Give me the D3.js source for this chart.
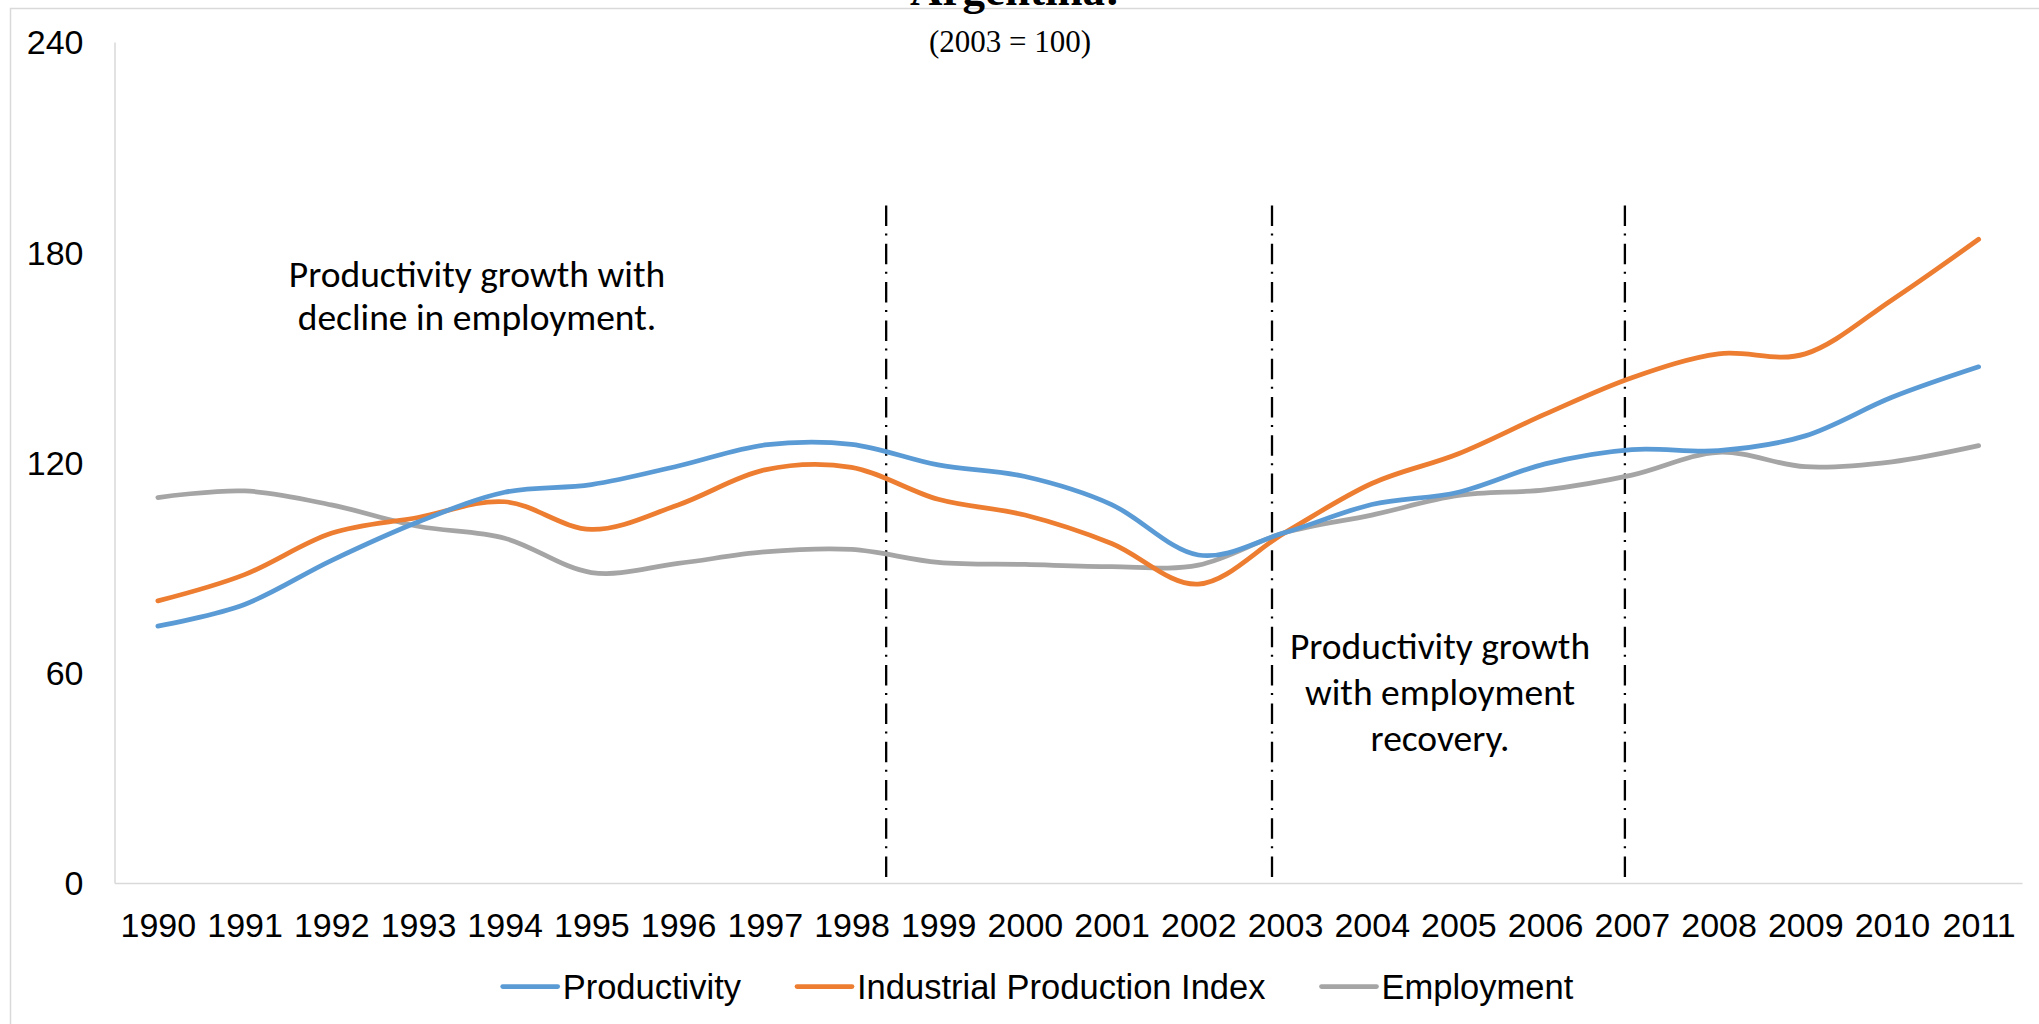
<!DOCTYPE html>
<html>
<head>
<meta charset="utf-8">
<script src="https://cdn.jsdelivr.net/npm/d3@7"></script>
<style>
  html, body { margin: 0; padding: 0; background: #ffffff; overflow: hidden; }
  svg { display: block; }
</style>
</head>
<body>
<svg id="chart" width="2039" height="1024"></svg>
<script>
// Argentina: productivity, industrial production and employment (index, 2003 = 100)
const years = ["1990","1991","1992","1993","1994","1995","1996","1997","1998","1999","2000",
               "2001","2002","2003","2004","2005","2006","2007","2008","2009","2010","2011"];
const productivity = [73.3, 79.5, 92.0, 103.0, 111.5, 113.7, 119.0, 125.0, 125.2, 119.3, 116.0,
                      108.0, 93.6, 100.0, 108.0, 111.5, 119.6, 123.7, 123.4, 127.6, 138.6, 147.3];
const industrial   = [80.5, 88.0, 99.8, 104.3, 108.8, 100.9, 107.9, 117.9, 118.6, 109.5, 105.0,
                      96.9, 85.3, 100.0, 114.0, 122.5, 133.8, 144.2, 151.0, 151.0, 166.4, 183.7];
const employment   = [110.0, 111.9, 107.9, 101.8, 98.4, 88.6, 91.2, 94.5, 95.2, 91.5, 90.9,
                      90.3, 90.7, 100.0, 105.0, 110.6, 112.2, 116.4, 122.9, 118.8, 120.2, 124.8];
const seriesNames  = ["Productivity", "Industrial Production Index", "Employment"];
const seriesColors = ["#5B9BD5", "#ED7D31", "#A5A5A5"];
const yTicks = [0, 60, 120, 180, 240];
const phaseBreaks = [1998.4, 2002.85, 2006.92];
const titleText = "Argentina:";
const subtitleText = "(2003 = 100)";
const noteLeft = ["Productivity growth with", "decline in employment."];
const noteRight = ["Productivity growth", "with employment", "recovery."];

const svg = d3.select("#chart");
const W = 2039, H = 1024;
const plot = { left: 114.5, right: 2022, top: 42, bottom: 883 };

// chart frame
svg.append("rect")
  .attr("x", 10.5).attr("y", 8.5)
  .attr("width", W + 20).attr("height", H + 20)
  .attr("fill", "#ffffff").attr("stroke", "#d9d9d9").attr("stroke-width", 1.5);

const x = d3.scalePoint().domain(years).range([plot.left, plot.right]).padding(0.5);
const xYear = d3.scaleLinear().domain([+years[0], +years[years.length - 1]])
  .range([x(years[0]), x(years[years.length - 1])]);
const y = d3.scaleLinear().domain([0, 240]).range([plot.bottom, plot.top]);

const axisFont = "'Liberation Sans', Arial, sans-serif";

// y axis
const gy = svg.append("g").attr("transform", `translate(${plot.left},0)`)
  .call(d3.axisLeft(y).tickValues(yTicks).tickSize(0).tickSizeOuter(0));
gy.select(".domain").attr("stroke", "#d9d9d9").attr("stroke-width", 1.5);
gy.selectAll(".tick text")
  .attr("x", -31).attr("dy", "0.35em")
  .attr("font-family", axisFont).attr("font-size", 34).attr("fill", "#000");

// x axis
const gx = svg.append("g").attr("transform", `translate(0,${plot.bottom})`)
  .call(d3.axisBottom(x).tickSize(0).tickSizeOuter(0));
gx.select(".domain").attr("stroke", "#d9d9d9").attr("stroke-width", 1.5);
gx.selectAll(".tick text")
  .attr("y", 54).attr("dy", 0)
  .attr("font-family", axisFont).attr("font-size", 34).attr("fill", "#000");

// phase separators
svg.append("g").selectAll("line").data(phaseBreaks).join("line")
  .attr("x1", d => xYear(d)).attr("x2", d => xYear(d))
  .attr("y1", 205.5).attr("y2", plot.bottom)
  .attr("stroke", "#000").attr("stroke-width", 2.3)
  .attr("stroke-dasharray", "20.5 7.5 2 8.3");

// series lines
const line = d3.line()
  .x((d, i) => x(years[i]))
  .y(d => y(d))
  .curve(d3.curveCardinal.tension(0));

const allSeries = [productivity, industrial, employment];
svg.append("g").selectAll("path").data([2, 1, 0]).join("path")
  .attr("d", k => line(allSeries[k]))
  .attr("fill", "none")
  .attr("stroke", k => seriesColors[k])
  .attr("stroke-width", 4.75)
  .attr("stroke-linecap", "round")
  .attr("stroke-linejoin", "round");

// annotations
const noteFont = "Carlito, Calibri, 'Open Sans', sans-serif";
svg.append("text")
  .attr("x", 477).attr("text-anchor", "middle")
  .attr("font-family", noteFont).attr("font-size", 37.5).attr("fill", "#000")
  .selectAll("tspan").data(noteLeft).join("tspan")
  .attr("x", 477).attr("y", (d, i) => 287 + i * 43).text(d => d);

svg.append("text")
  .attr("x", 1440).attr("text-anchor", "middle")
  .attr("font-family", noteFont).attr("font-size", 37.5).attr("fill", "#000")
  .selectAll("tspan").data(noteRight).join("tspan")
  .attr("x", 1440).attr("y", (d, i) => 659 + i * 46).text(d => d);

// title and subtitle
svg.append("text")
  .attr("x", 1015).attr("y", 5).attr("text-anchor", "middle")
  .attr("font-family", "'Liberation Serif', 'Times New Roman', serif")
  .attr("font-weight", "bold").attr("font-size", 45).attr("fill", "#000")
  .text(titleText);
svg.append("text")
  .attr("x", 1010).attr("y", 51.5).attr("text-anchor", "middle")
  .attr("font-family", "'Liberation Serif', 'Times New Roman', serif")
  .attr("font-size", 31).attr("fill", "#000")
  .text(subtitleText);

// legend
const legendY = 986.5;
const legendGap = 56;
const legend = svg.append("g");
let lx = 502.7;
seriesNames.forEach((name, i) => {
  const g = legend.append("g");
  g.append("line")
    .attr("x1", lx).attr("x2", lx + 55)
    .attr("y1", legendY).attr("y2", legendY)
    .attr("stroke", seriesColors[i]).attr("stroke-width", 4.75)
    .attr("stroke-linecap", "round");
  const t = g.append("text")
    .attr("x", lx + 60).attr("y", legendY).attr("dy", "0.35em")
    .attr("font-family", axisFont).attr("font-size", 34.5).attr("fill", "#000")
    .text(name);
  lx += 60 + t.node().getComputedTextLength() + legendGap;
});
</script>
</body>
</html>
